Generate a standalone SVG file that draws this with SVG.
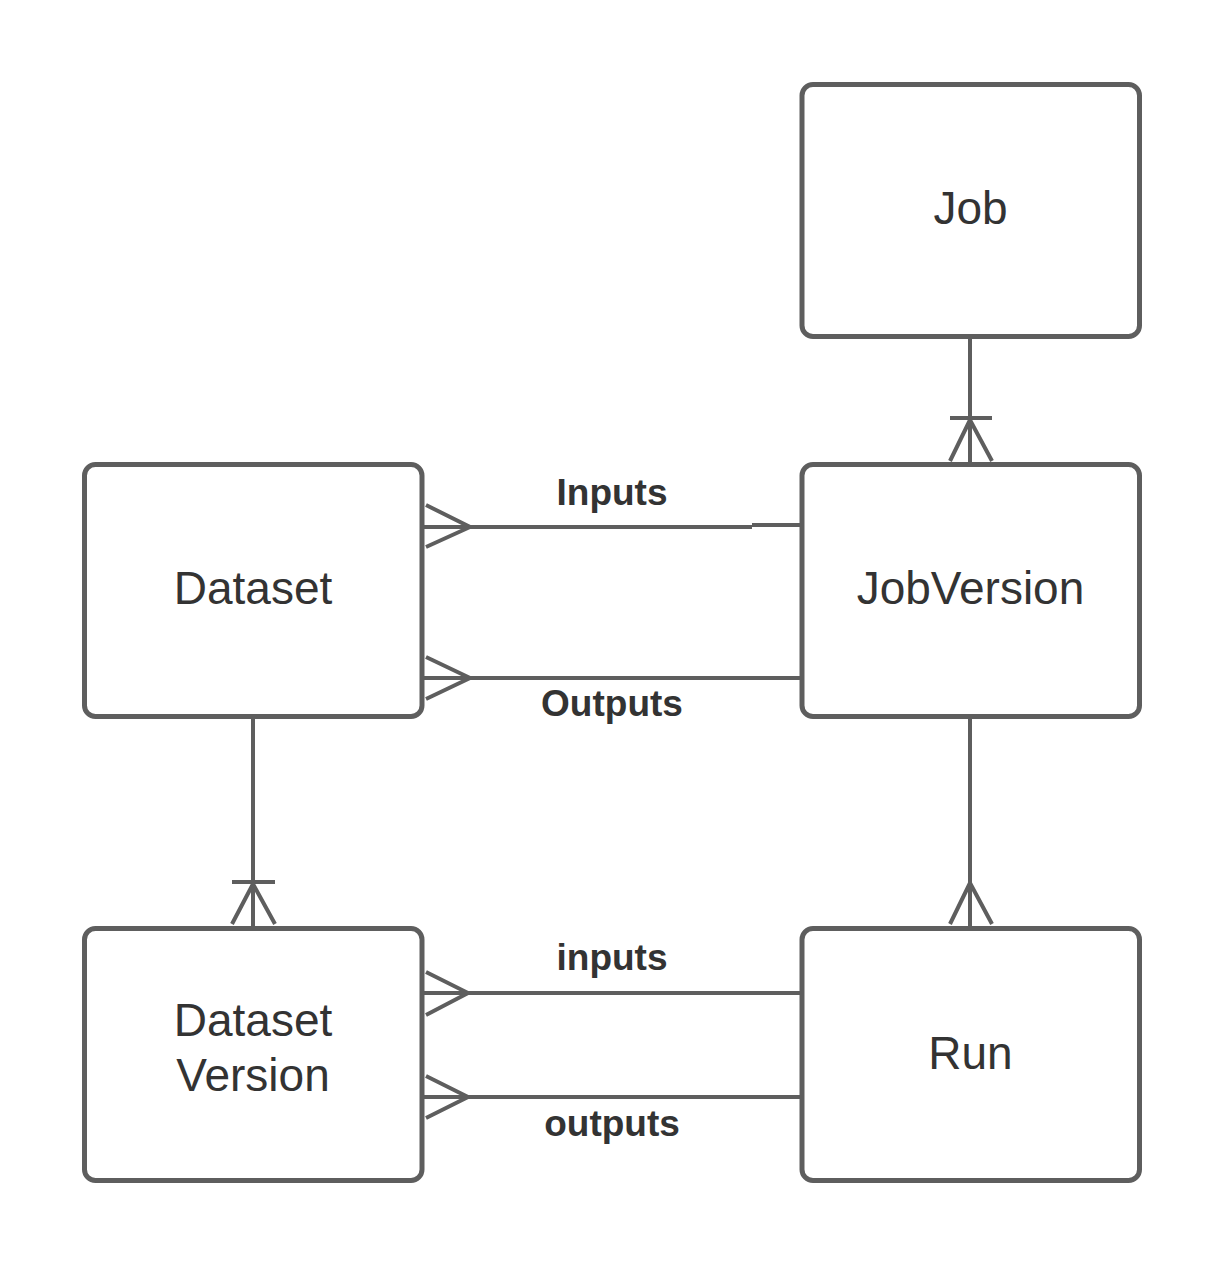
<svg xmlns="http://www.w3.org/2000/svg" width="1224" height="1266" viewBox="0 0 1224 1266">
<style>
.box{fill:#ffffff;stroke:#5e5e5e;stroke-width:5}
.ln{fill:none;stroke:#5e5e5e;stroke-width:4}
.t{font-family:"Liberation Sans",Arial,sans-serif;font-size:46px;fill:#333333;text-anchor:middle}
.lb{font-family:"Liberation Sans",Arial,sans-serif;font-size:37px;font-weight:bold;fill:#333333;text-anchor:middle}
</style>
<rect width="1224" height="1266" fill="#ffffff"/>
<g id="connectors">
  <!-- Job -> JobVersion -->
  <path class="ln" d="M970,338 V462 M950,418 H992 M970,420 L950,461 M970,420 L992,461"/>
  <!-- Dataset -> DatasetVersion -->
  <path class="ln" d="M253,718 V926 M232,882 H275 M253,884 L232,924 M253,884 L275,924"/>
  <!-- JobVersion -> Run -->
  <path class="ln" d="M970,718 V926 M970,883 L950,924 M970,883 L992,924"/>
  <!-- Inputs -->
  <path class="ln" d="M424,527 H752 M752,525 H802 M426,505 L470,527 L426,547"/>
  <text class="lb" x="612" y="505">Inputs</text>
  <!-- Outputs -->
  <path class="ln" d="M424,678 H802 M426,657 L470,678 L426,699"/>
  <text class="lb" x="612" y="716">Outputs</text>
  <!-- inputs -->
  <path class="ln" d="M424,993 H802 M426,972 L468,993 L426,1015"/>
  <text class="lb" x="612" y="970">inputs</text>
  <!-- outputs -->
  <path class="ln" d="M424,1097 H802 M426,1076 L468,1097 L426,1118"/>
  <text class="lb" x="612" y="1136">outputs</text>
</g>
<g id="job">
  <rect class="box" x="802" y="84.5" width="337.5" height="252" rx="11"/>
  <text class="t" x="970.5" y="224">Job</text>
</g>
<g id="jobversion">
  <rect class="box" x="802" y="464.5" width="337.5" height="252" rx="11"/>
  <text class="t" x="970.5" y="604">JobVersion</text>
</g>
<g id="dataset">
  <rect class="box" x="84.5" y="464.5" width="337.5" height="252" rx="11"/>
  <text class="t" x="253" y="604">Dataset</text>
</g>
<g id="datasetversion">
  <rect class="box" x="84.5" y="928.5" width="337.5" height="252" rx="11"/>
  <text class="t" x="253" y="1036">Dataset</text>
  <text class="t" x="253" y="1091">Version</text>
</g>
<g id="run">
  <rect class="box" x="802" y="928.5" width="337.5" height="252" rx="11"/>
  <text class="t" x="970.5" y="1069">Run</text>
</g>
</svg>
